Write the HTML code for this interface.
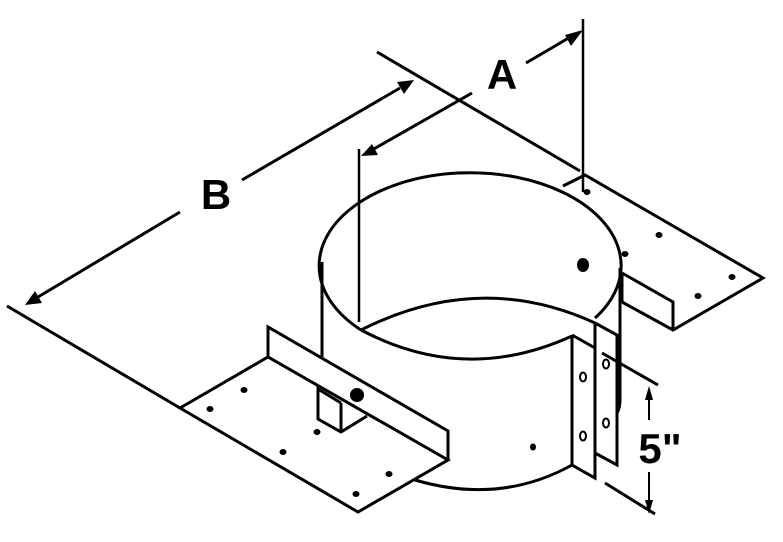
<!DOCTYPE html>
<html><head><style>html,body{margin:0;padding:0;background:#fff}svg{display:block}</style></head>
<body>
<svg width="783" height="542" viewBox="0 0 783 542" xmlns="http://www.w3.org/2000/svg">
<defs>
<marker id="ah" viewBox="0 0 10 10" refX="10" refY="5" markerWidth="6" markerHeight="5" orient="auto-start-reverse" markerUnits="userSpaceOnUse">
</marker>
</defs>
<g fill="none" stroke="#000" stroke-width="3" stroke-linejoin="miter" stroke-linecap="butt">
<!-- extension lines -->
<line x1="377" y1="52" x2="580" y2="171"/>
<line x1="583" y1="19" x2="583" y2="192" stroke-width="2.5"/>
<line x1="359" y1="149" x2="359" y2="322" stroke-width="2.5"/>
<line x1="7" y1="306" x2="180" y2="408"/>
<!-- A arrow -->
<line x1="526" y1="63" x2="572" y2="36"/>
<line x1="472" y1="93" x2="372" y2="150"/>
<!-- B arrow -->
<line x1="242" y1="180" x2="400" y2="88"/>
<line x1="180" y1="212" x2="38" y2="297"/>
<!-- right plate -->
<polyline points="563,186 585,175 763,278 673,330 622,302"/>
<polyline points="622,273 673,302 673,330"/>
<line x1="622" y1="273" x2="622" y2="302"/>
<!-- cylinder -->
<path d="M361,330 A151,93 0 1 1 595,318"/>
<path d="M322,262 L322,357"/>
<path d="M361,330 Q480,270 595,323"/>
<path d="M361,330 Q465,385 572,336"/>
<path d="M415,480 Q500,505 572,465"/>
<path d="M620,268 L620,400 Q620,408 617,413"/>
<!-- bracket strips -->
<polyline points="572,335 572,465 595,478 595,348 572,335"/>
<polyline points="595,323 617,335 617,465 595,453"/>
<line x1="595" y1="323" x2="595" y2="348"/>
<!-- left plate -->
<polygon points="180,408 268,357 448,460 358,512"/>
<polyline points="268,357 268,327 448,431 448,460"/>
<!-- clip block -->
<polyline points="341,403 318,389 318,419 341,432 367,416"/>
<line x1="341" y1="403" x2="341" y2="432"/>
<!-- 5" dims -->
<line x1="602" y1="353" x2="658" y2="385"/>
<line x1="605" y1="483" x2="655" y2="514"/>
<line x1="649" y1="396" x2="649" y2="420" stroke-width="2"/>
<line x1="649" y1="472" x2="649" y2="504" stroke-width="2"/>
</g>
<g fill="#000">
<!-- arrowheads -->
<polygon points="583,30 565,35 571,46"/>
<polygon points="361,156 372,144 378,155"/>
<polygon points="414,80 397,82 404,94"/>
<polygon points="25,305 35,291 42,303"/>
<polygon points="649,386 645,400 653,400"/>
<polygon points="649,514 645,500 653,500"/>
<!-- holes -->
<ellipse cx="587" cy="192" rx="3.5" ry="3"/>
<ellipse cx="659" cy="235" rx="3.5" ry="3"/>
<ellipse cx="625" cy="254" rx="3.5" ry="3"/>
<ellipse cx="732" cy="277" rx="3.5" ry="3"/>
<ellipse cx="698" cy="296" rx="3.5" ry="3"/>
<ellipse cx="244" cy="390" rx="3.5" ry="3"/>
<ellipse cx="210" cy="409" rx="3.5" ry="3"/>
<ellipse cx="317" cy="432" rx="3.5" ry="3"/>
<ellipse cx="283" cy="452" rx="3.5" ry="3"/>
<ellipse cx="389" cy="474" rx="3.5" ry="3"/>
<ellipse cx="356" cy="494" rx="3.5" ry="3"/>
<ellipse cx="533" cy="447" rx="3" ry="3.5"/>
<ellipse cx="583" cy="265" rx="6" ry="7"/>
<circle cx="357" cy="395" r="7"/>
</g>
<g fill="#fff" stroke="#000" stroke-width="2">
<ellipse cx="583" cy="377" rx="3" ry="4.5"/>
<ellipse cx="583" cy="436" rx="3" ry="4.5"/>
<ellipse cx="606" cy="364" rx="3" ry="4.5"/>
<ellipse cx="606" cy="423" rx="3" ry="4.5"/>
</g>
<g font-family="Liberation Sans, sans-serif" font-weight="bold" font-size="42" text-anchor="middle">
<text x="502" y="89">A</text>
<text x="216" y="209">B</text>
<text x="660" y="463">5"</text>
</g>
</svg>
</body></html>
